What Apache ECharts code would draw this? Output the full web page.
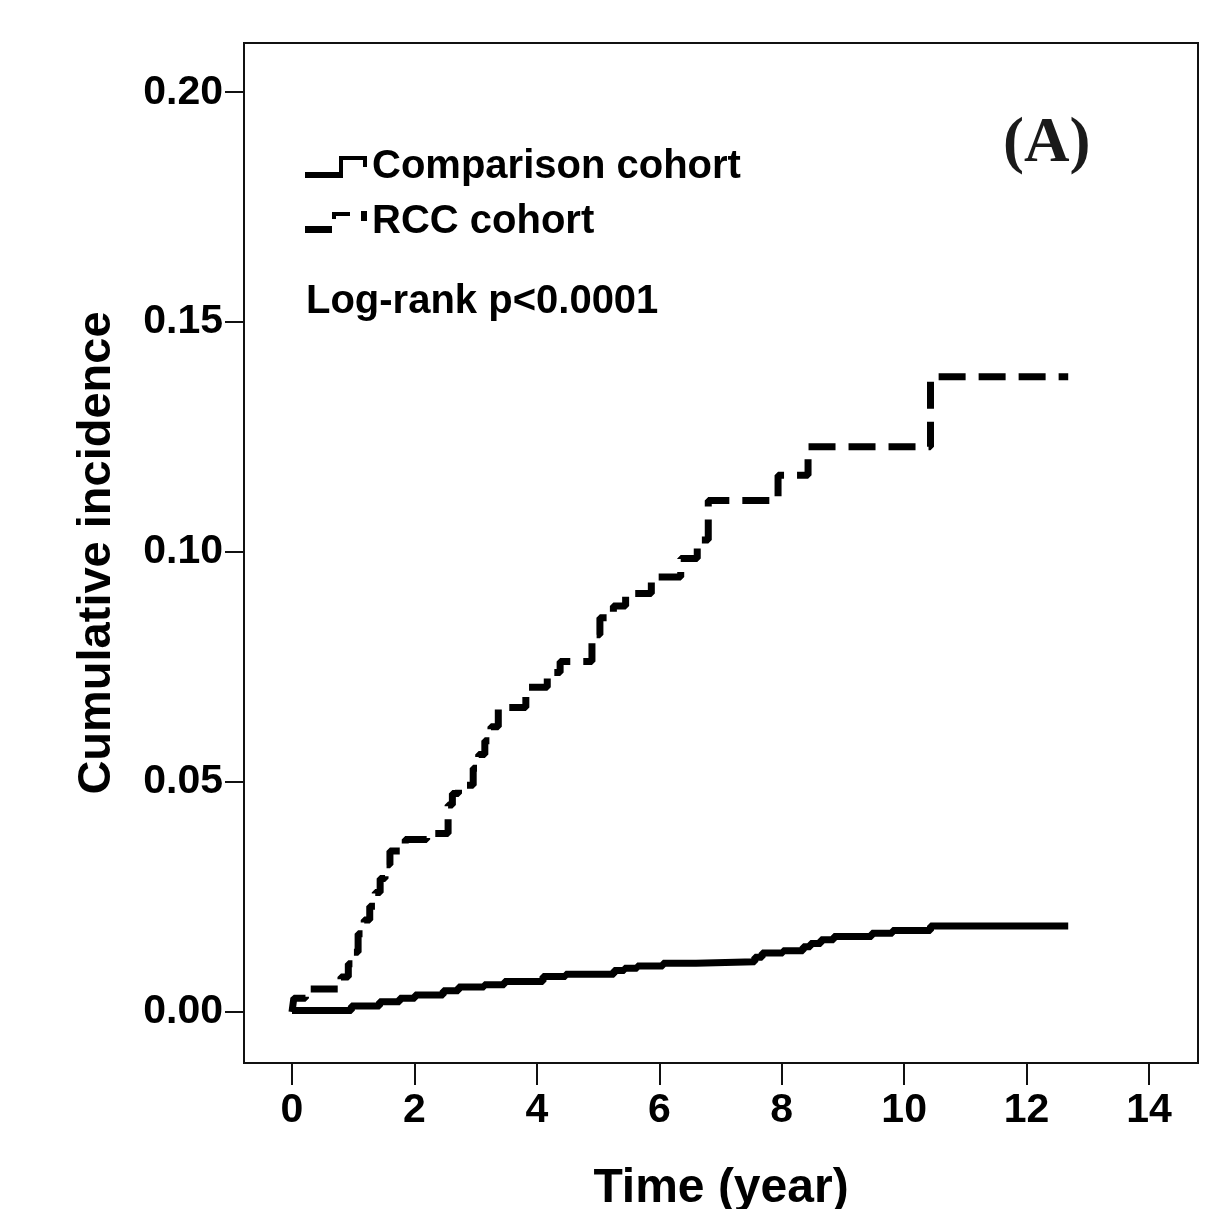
<!DOCTYPE html>
<html>
<head>
<meta charset="utf-8">
<script src="https://cdn.jsdelivr.net/npm/echarts@6.0.0/dist/echarts.min.js"></script>
<style>
  html, body { margin: 0; padding: 0; background: #fff; }
  #box { width: 1227px; height: 1209px; }
</style>
</head>
<body>
<div id="box"></div>
<script>
// Kaplan-Meier style cumulative incidence
var xTicks = [0, 2, 4, 6, 8, 10, 12, 14];
var yTicks = [0, 0.05, 0.10, 0.15, 0.20];

var compTime = [0, 0.97, 1.43, 1.76, 2.01, 2.47, 2.72, 3.14, 3.47, 4.10, 4.47, 5.26, 5.43, 5.64, 6.06, 6.60,
    7.56, 7.68, 8.02, 8.35, 8.47, 8.64, 8.85, 9.47, 9.81, 10.43, 12.68];
var compIncidence = [0.0003, 0.0013, 0.0022, 0.0030, 0.0037, 0.0046, 0.0054, 0.0059, 0.0066, 0.0077, 0.0082, 0.0090, 0.0095, 0.0100, 0.0106, 0.0109,
    0.0119, 0.0128, 0.0133, 0.0142, 0.0149, 0.0157, 0.0164, 0.0171, 0.0177, 0.0187, 0.0187];

var rccTime = [0, 0.03, 0.22, 0.80, 0.92, 1.00, 1.08, 1.18, 1.27, 1.36, 1.44, 1.52, 1.60, 1.85, 2.20,
    2.55, 2.62, 2.72, 2.96, 3.05, 3.15, 3.25, 3.37, 3.82, 4.17, 4.38, 4.90, 5.03, 5.25, 5.45, 5.87,
    6.35, 6.62, 6.80, 7.94, 8.43, 10.43, 12.68];
var rccIncidence = [0, 0.003, 0.005, 0.0076, 0.0105, 0.013, 0.017, 0.020, 0.023, 0.026, 0.029, 0.032, 0.035, 0.0375, 0.0388,
    0.045, 0.0475, 0.0493, 0.053, 0.056, 0.059, 0.062, 0.0662, 0.0706, 0.0738, 0.0762, 0.082, 0.0857, 0.0883, 0.091, 0.0946,
    0.0986, 0.1026, 0.1112, 0.1167, 0.1229, 0.1381, 0.1381];

var seriesNames = ['Comparison cohort', 'RCC cohort'];

function pairs(xs, ys) {
    return xs.map(function (x, i) { return [x, ys[i]]; });
}

var font = '"Liberation Sans", Arial, sans-serif';

var myChart = echarts.init(document.getElementById('box'));
var option = {
    animation: false,
    backgroundColor: '#fff',
    grid: {
        left: 244, right: 29, top: 43, bottom: 146,
        show: true, borderColor: '#111', borderWidth: 2,
        containLabel: false,
        outerBoundsMode: 'none'
    },
    title: [{
        text: 'Log-rank p<0.0001',
        left: 306, top: 282, padding: 0,
        textStyle: { fontFamily: font, fontSize: 40, fontWeight: 'bold', color: '#000' }
    }, {
        text: '(A)',
        left: 1003, top: 113, padding: 0,
        textStyle: { fontFamily: '"Liberation Serif", "Times New Roman", serif', fontSize: 63, fontWeight: 'bold', color: '#1a1a1a' }
    }],
    legend: {
        orient: 'vertical',
        left: 305, top: 147, padding: 0,
        itemWidth: 62, itemHeight: 22, itemGap: 15,
        itemStyle: { color: '#000', borderWidth: 0 },
        textStyle: { fontFamily: font, fontSize: 40, fontWeight: 'bold', color: '#000', lineHeight: 40 },
        data: [{
            name: seriesNames[0],
            icon: 'path://M0,16h38v6h-38z M34,0h4v22h-4z M34,0h28v4h-28z M58,0h4v11h-4z'
        }, {
            name: seriesNames[1],
            icon: 'path://M0,15h27v7h-27z M27,1h18v4h-18z M27,1h4v7h-4z M56,0h6v10h-6z'
        }]
    },
    xAxis: {
        type: 'value',
        min: -0.784, max: 14.8,
        name: 'Time (year)',
        nameLocation: 'middle',
        nameGap: 102,
        nameTextStyle: { fontFamily: font, fontSize: 48, fontWeight: 'bold', color: '#000' },
        splitLine: { show: false },
        axisLine: { show: true, onZero: false, lineStyle: { color: '#111', width: 2 } },
        axisTick: { show: true, inside: false, length: 22, customValues: xTicks, lineStyle: { color: '#111', width: 2 } },
        axisLabel: {
            customValues: xTicks, margin: 27,
            fontFamily: font, fontSize: 41, fontWeight: 'bold', color: '#000'
        }
    },
    yAxis: {
        type: 'value',
        min: -0.0111, max: 0.2107,
        name: 'Cumulative incidence',
        nameLocation: 'middle',
        nameGap: 123,
        nameRotate: 90,
        nameTextStyle: { fontFamily: font, fontSize: 47, fontWeight: 'bold', color: '#000' },
        splitLine: { show: false },
        axisLine: { show: true, onZero: false, lineStyle: { color: '#111', width: 2 } },
        axisTick: { show: true, inside: false, length: 19, customValues: yTicks, lineStyle: { color: '#111', width: 2 } },
        axisLabel: {
            customValues: yTicks, margin: 21,
            fontFamily: font, fontSize: 41, fontWeight: 'bold', color: '#000',
            formatter: function (v) { return v.toFixed(2); }
        }
    },
    series: [{
        name: seriesNames[0],
        type: 'line',
        step: 'end',
        showSymbol: false,
        symbol: 'none',
        itemStyle: { color: '#000' },
        lineStyle: { color: '#000', width: 7, type: 'solid' },
        data: pairs(compTime, compIncidence)
    }, {
        name: seriesNames[1],
        type: 'line',
        step: 'end',
        showSymbol: false,
        symbol: 'none',
        itemStyle: { color: '#000' },
        lineStyle: { color: '#000', width: 7, type: [27, 13], cap: 'butt' },
        data: pairs(rccTime, rccIncidence)
    }]
};
myChart.setOption(option);
</script>
</body>
</html>
